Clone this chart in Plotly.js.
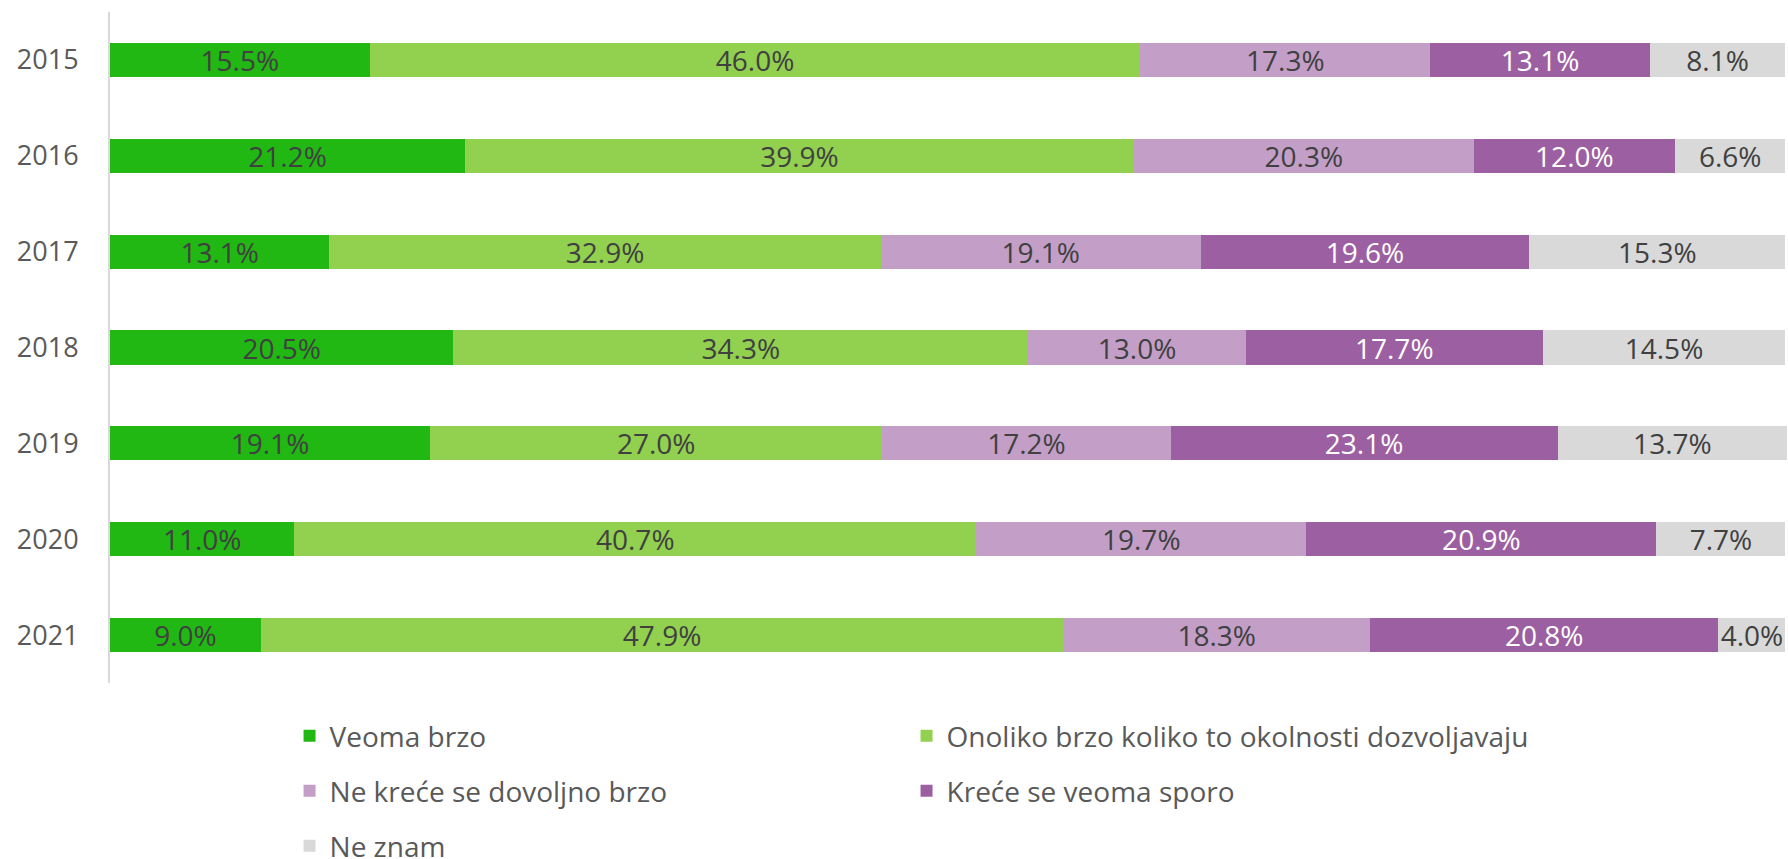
<!DOCTYPE html>
<html>
<head>
<meta charset="utf-8">
<script src="https://cdn.plot.ly/plotly-3.0.1.min.js"></script>
<style>
html,body{margin:0;padding:0;background:#fff;}
#chart{width:1788px;height:859px;}
</style>
</head>
<body>
<div id="chart"></div>
<script>
var years = ['2015','2016','2017','2018','2019','2020','2021'];
var seriesNames = ['Veoma brzo','Onoliko brzo koliko to okolnosti dozvoljavaju','Ne kreće se dovoljno brzo','Kreće se veoma sporo','Ne znam'];
var veomaBrzo   = [15.5, 21.2, 13.1, 20.5, 19.1, 11.0, 9.0];
var onoliko     = [46.0, 39.9, 32.9, 34.3, 27.0, 40.7, 47.9];
var neKrece     = [17.3, 20.3, 19.1, 13.0, 17.2, 19.7, 18.3];
var veomaSporo  = [13.1, 12.0, 19.6, 17.7, 23.1, 20.9, 20.8];
var neZnam      = [8.1, 6.6, 15.3, 14.5, 13.7, 7.7, 4.0];

var values = [veomaBrzo, onoliko, neKrece, veomaSporo, neZnam];
var colors = ['#21B814', '#92D050', '#C39FC8', '#9C60A2', '#D9D9D9'];
var textColors = ['#404040', '#404040', '#404040', '#FFFFFF', '#404040'];
var legendIds = ['legend', 'legend2', 'legend3', 'legend4', 'legend5'];

var traces = values.map(function(v, i){
  return {
    type: 'bar',
    orientation: 'h',
    name: seriesNames[i],
    y: years,
    x: v,
    width: 0.355,
    marker: {color: colors[i], line: {width: 0}},
    texttemplate: '%{x:.1f}%',
    textposition: 'inside',
    insidetextanchor: 'middle',
    textangle: 0,
    constraintext: 'none',
    cliponaxis: false,
    textfont: {family: 'Open Sans', size: 28, color: textColors[i]},
    hoverinfo: 'skip',
    legend: legendIds[i]
  };
});

function legendCfg(x, y){
  return {
    orientation: 'h',
    x: x, xanchor: 'left',
    y: y, yanchor: 'middle',
    traceorder: 'normal',
    font: {family: 'Open Sans', size: 28, color: '#595959'},
    bgcolor: 'rgba(0,0,0,0)'
  };
}

var col1 = 0.107, col2 = 0.4747;
var layout = {
  width: 1788, height: 859,
  margin: {l: 110, r: 0, t: 12, b: 176, autoexpand: false},
  paper_bgcolor: '#FFFFFF',
  plot_bgcolor: '#FFFFFF',
  barmode: 'stack',
  font: {family: 'Open Sans', color: '#595959'},
  xaxis: {
    range: [0, 100.15],
    visible: false,
    showgrid: false,
    zeroline: false,
    fixedrange: true
  },
  yaxis: {
    type: 'category',
    autorange: 'reversed',
    showline: true,
    linecolor: '#D9D9D9',
    linewidth: 2,
    ticks: '',
    showgrid: false,
    zeroline: false,
    tickfont: {family: 'Open Sans', size: 27, color: '#595959'},
    ticklabelstandoff: 24,
    fixedrange: true
  },
  showlegend: true,
  legend: legendCfg(col1, -0.079),
  legend2: legendCfg(col2, -0.079),
  legend3: legendCfg(col1, -0.161),
  legend4: legendCfg(col2, -0.161),
  legend5: legendCfg(col1, -0.243)
};

Plotly.newPlot('chart', traces, layout, {displayModeBar: false, staticPlot: true});
</script>
</body>
</html>
